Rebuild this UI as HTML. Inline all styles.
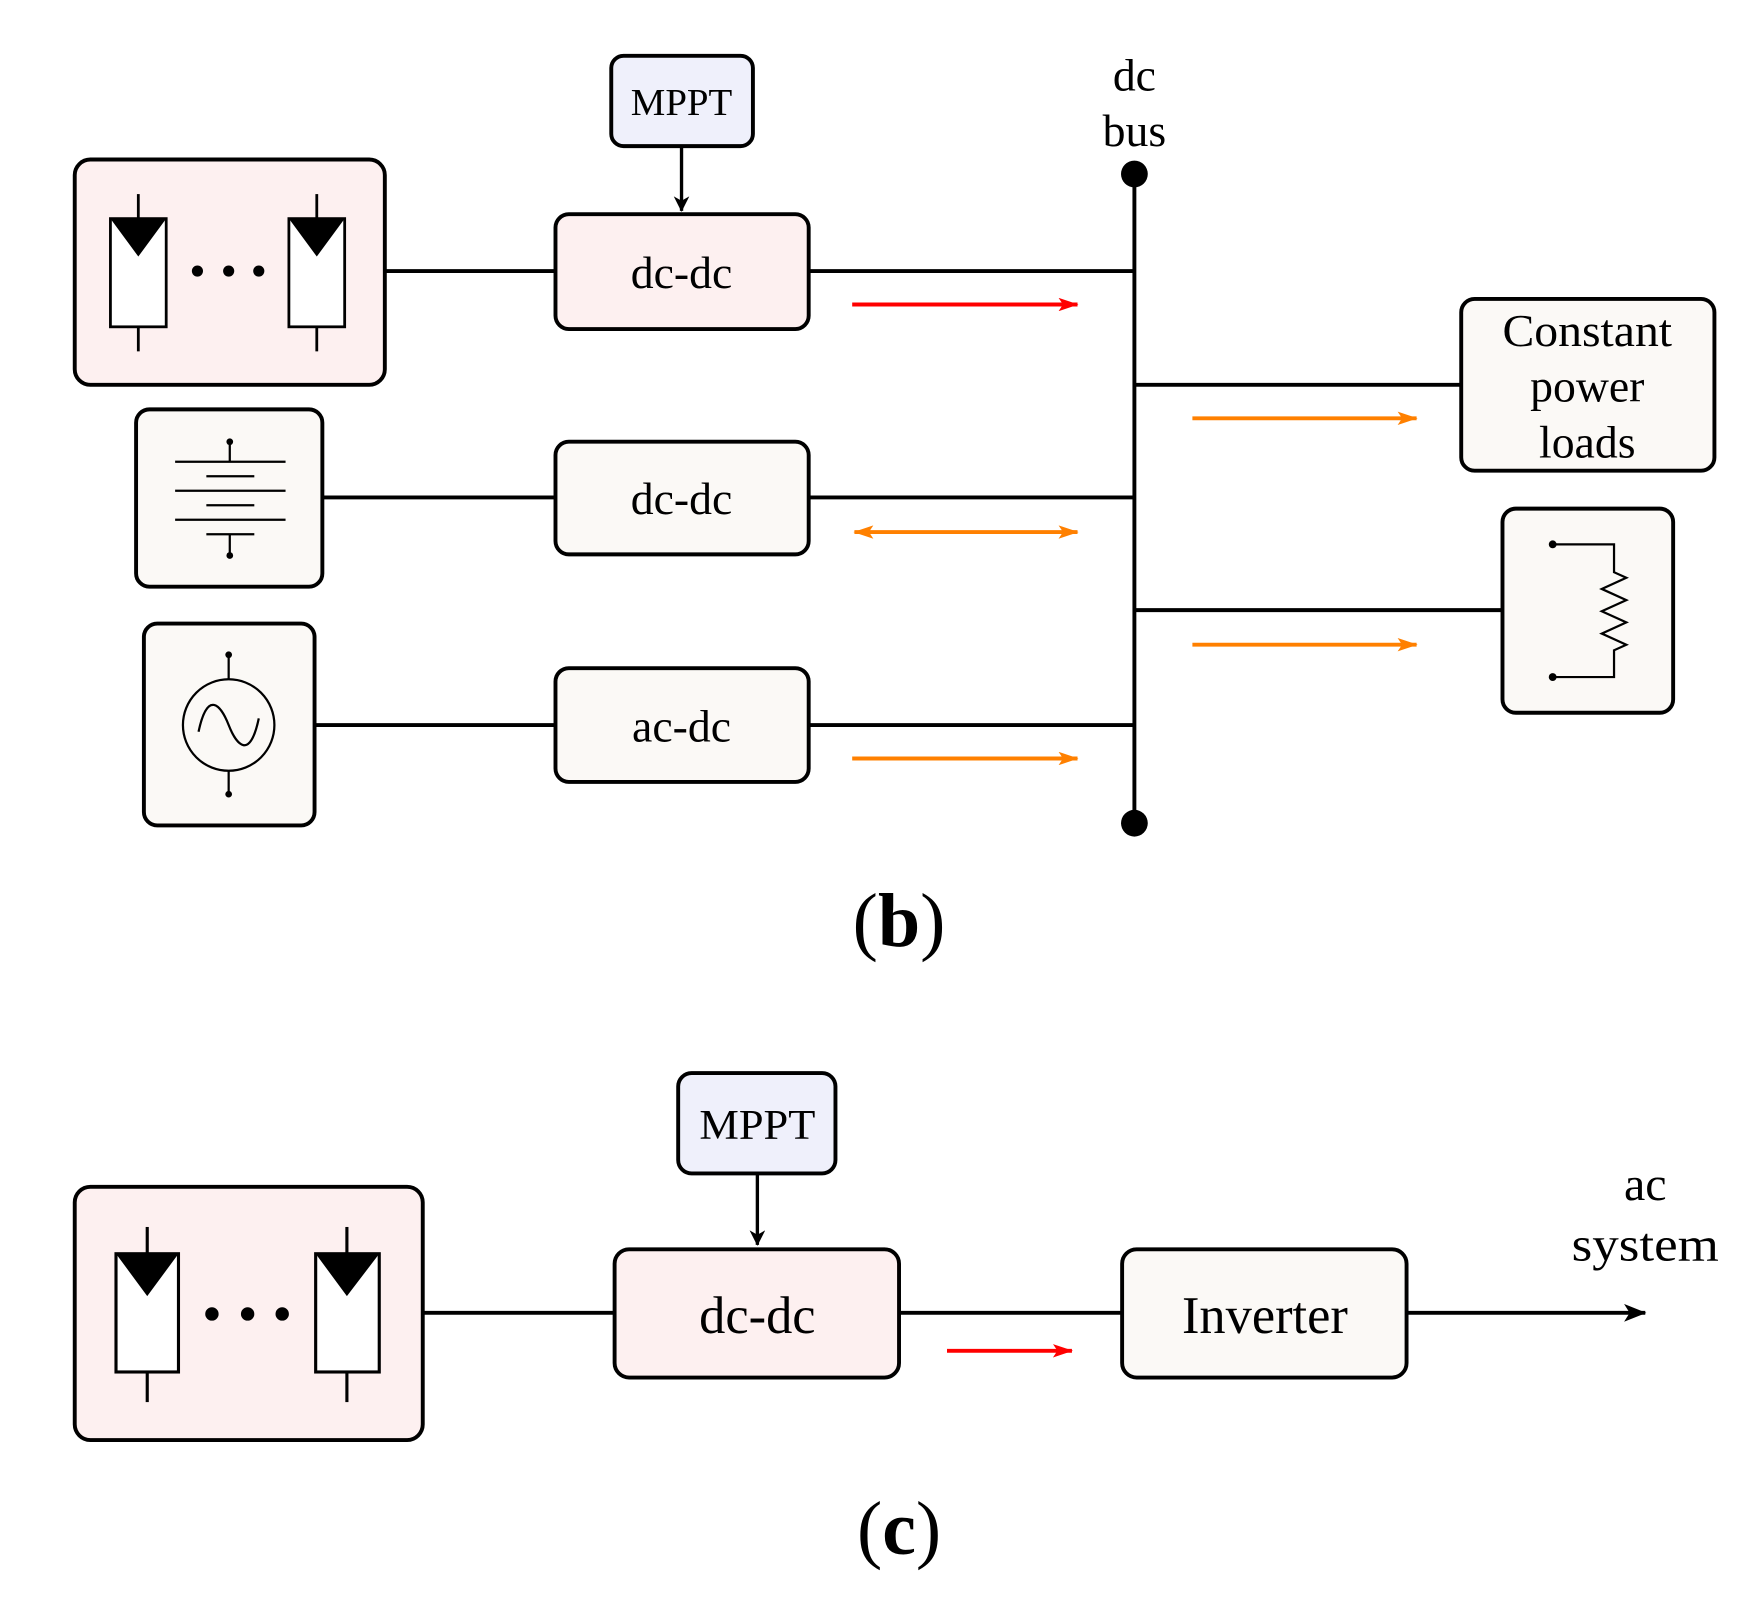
<!DOCTYPE html>
<html><head><meta charset="utf-8"><style>html,body{margin:0;padding:0;background:#fff}svg{display:block}</style></head>
<body>
<svg width="1749" height="1608" viewBox="0 0 1568 1441.6" preserveAspectRatio="none" xmlns="http://www.w3.org/2000/svg" font-family="'Liberation Serif', serif">
<defs>
<marker id="ak" markerWidth="14" markerHeight="14" refX="13" refY="7" orient="auto" markerUnits="userSpaceOnUse"><path d="M0,0 L14,7 L0,14 L4,7 Z" fill="#000"/></marker>
<marker id="ar" markerWidth="18" markerHeight="12" refX="17" refY="6" orient="auto-start-reverse" markerUnits="userSpaceOnUse"><path d="M0,0 L18,6 L0,12 L4,6 Z" fill="#f00"/></marker>
<marker id="ao" markerWidth="18" markerHeight="12" refX="17" refY="6" orient="auto-start-reverse" markerUnits="userSpaceOnUse"><path d="M0,0 L18,6 L0,12 L4,6 Z" fill="#ff8000"/></marker>
<marker id="ab" markerWidth="20" markerHeight="16" refX="19" refY="8" orient="auto" markerUnits="userSpaceOnUse"><path d="M0,0 L20,8 L0,16 L5,8 Z" fill="#000"/></marker>
</defs>
<g stroke="#000" stroke-width="3.5" fill="none">
<line x1="345" y1="243" x2="498" y2="243"/><line x1="725" y1="243" x2="1017" y2="243"/>
<line x1="289" y1="446" x2="498" y2="446"/><line x1="725" y1="446" x2="1017" y2="446"/>
<line x1="282" y1="650" x2="498" y2="650"/><line x1="725" y1="650" x2="1017" y2="650"/>
<line x1="1017" y1="156" x2="1017" y2="738"/>
<line x1="1017" y1="345" x2="1310" y2="345"/>
<line x1="1017" y1="547" x2="1347" y2="547"/>
<line x1="611" y1="131" x2="611" y2="189" stroke-width="3" marker-end="url(#ak)"/>
<rect x="548" y="50" width="127" height="81" rx="11" fill="#eff0fb"/>
<rect x="498" y="192" width="227" height="103" rx="12" fill="#fdf0f0"/>
<rect x="67" y="143" width="278" height="202" rx="14" fill="#fdf0f0"/>
<rect x="122" y="367" width="167" height="159" rx="12" fill="#fbf9f6"/>
<rect x="498" y="396" width="227" height="101" rx="12" fill="#fbf9f6"/>
<rect x="129" y="559" width="153" height="181" rx="12" fill="#fbf9f6"/>
<rect x="498" y="599" width="227" height="102" rx="12" fill="#fbf9f6"/>
<rect x="1310" y="268" width="227" height="154" rx="12" fill="#fbf9f6"/>
<rect x="1347" y="456" width="153" height="183" rx="12" fill="#fbf9f6"/>
</g>
<circle cx="1017" cy="156" r="12"/><circle cx="1017" cy="738" r="12"/>
<g stroke="#000" stroke-width="2.5" fill="#fff">
<line x1="124" y1="174" x2="124" y2="196"/><line x1="124" y1="293" x2="124" y2="315"/>
<rect x="99" y="196" width="50" height="97"/>
<line x1="284" y1="174" x2="284" y2="196"/><line x1="284" y1="293" x2="284" y2="315"/>
<rect x="259" y="196" width="50" height="97"/>
</g>
<path d="M99,196 L149,196 L124,230 Z M259,196 L309,196 L284,230 Z" fill="#000"/>
<circle cx="177" cy="243" r="5"/><circle cx="205" cy="243" r="5"/><circle cx="232" cy="243" r="5"/>
<g stroke="#000" stroke-width="2" fill="none">
<line x1="206" y1="396" x2="206" y2="414"/>
<line x1="157" y1="414" x2="256" y2="414"/><line x1="185" y1="427" x2="228" y2="427"/>
<line x1="157" y1="440" x2="256" y2="440"/><line x1="185" y1="453" x2="228" y2="453"/>
<line x1="157" y1="466" x2="256" y2="466"/><line x1="185" y1="479" x2="228" y2="479"/>
<line x1="206" y1="479" x2="206" y2="498"/>
<line x1="205" y1="587" x2="205" y2="609"/><line x1="205" y1="691" x2="205" y2="712"/>
<circle cx="205" cy="650" r="41"/>
<path d="M178,656 C186,618 198,632 205,650 C212,668 224,682 232,644"/>
<path d="M1392,488 L1447,488 L1447,513 L1458,518 L1436,528 L1458,538 L1436,548 L1458,558 L1436,568 L1458,578 L1447,583 L1447,607 L1392,607"/>
</g>
<circle cx="206" cy="396" r="3"/><circle cx="206" cy="498" r="3"/>
<circle cx="205" cy="587" r="3"/><circle cx="205" cy="712" r="3"/>
<circle cx="1392" cy="488" r="3.5"/><circle cx="1392" cy="607" r="3.5"/>
<g stroke-width="3.5">
<line x1="764" y1="273" x2="966" y2="273" stroke="#f00" marker-end="url(#ar)"/>
<line x1="766" y1="477" x2="966" y2="477" stroke="#ff8000" marker-start="url(#ao)" marker-end="url(#ao)"/>
<line x1="764" y1="680" x2="966" y2="680" stroke="#ff8000" marker-end="url(#ao)"/>
<line x1="1069" y1="375" x2="1270" y2="375" stroke="#ff8000" marker-end="url(#ao)"/>
<line x1="1069" y1="578" x2="1270" y2="578" stroke="#ff8000" marker-end="url(#ao)"/>
</g>
<text x="611" y="103" font-size="34" text-anchor="middle" textLength="91" lengthAdjust="spacingAndGlyphs">MPPT</text>
<g font-size="41" text-anchor="middle">
<text x="611" y="258">dc-dc</text>
<text x="611" y="461">dc-dc</text>
<text x="611" y="665">ac-dc</text>
<text x="1017" y="81">dc</text>
<text x="1017" y="131">bus</text>
<text x="1423" y="310" textLength="152" lengthAdjust="spacingAndGlyphs">Constant</text>
<text x="1423" y="360">power</text>
<text x="1423" y="410">loads</text>
</g>
<text x="806" y="848" font-size="68" text-anchor="middle">(<tspan font-weight="bold">b</tspan>)</text>

<g stroke="#000" stroke-width="3.5" fill="none">
<line x1="379" y1="1177" x2="551" y2="1177"/><line x1="806" y1="1177" x2="1006" y2="1177"/>
<line x1="1261" y1="1177" x2="1475" y2="1177" marker-end="url(#ab)"/>
<line x1="679" y1="1052" x2="679" y2="1116" stroke-width="3" marker-end="url(#ak)"/>
<rect x="608" y="962" width="141" height="90" rx="12" fill="#eff0fb"/>
<rect x="67" y="1064" width="312" height="227" rx="14" fill="#fdf0f0"/>
<rect x="551" y="1120" width="255" height="115" rx="13" fill="#fdf0f0"/>
<rect x="1006" y="1120" width="255" height="115" rx="13" fill="#fbf9f6"/>
</g>
<g stroke="#000" stroke-width="2.8" fill="#fff">
<line x1="132" y1="1100" x2="132" y2="1124"/><line x1="132" y1="1230" x2="132" y2="1257"/>
<rect x="104" y="1124" width="56" height="106"/>
<line x1="311" y1="1100" x2="311" y2="1124"/><line x1="311" y1="1230" x2="311" y2="1257"/>
<rect x="283" y="1124" width="57" height="106"/>
</g>
<path d="M104,1124 L160,1124 L132,1162 Z M283,1124 L340,1124 L311,1162 Z" fill="#000"/>
<circle cx="190" cy="1178" r="6"/><circle cx="222" cy="1178" r="6"/><circle cx="253" cy="1178" r="6"/>
<line x1="849" y1="1211" x2="961" y2="1211" stroke="#f00" stroke-width="3.5" marker-end="url(#ar)"/>
<g text-anchor="middle">
<text x="679" y="1021" font-size="38" textLength="104" lengthAdjust="spacingAndGlyphs">MPPT</text>
<text x="679" y="1195" font-size="47">dc-dc</text>
<text x="1134" y="1195" font-size="47">Inverter</text>
<text x="1475" y="1076" font-size="43">ac</text>
<text x="1475" y="1130" font-size="43" textLength="132" lengthAdjust="spacingAndGlyphs">system</text>
<text x="806" y="1393" font-size="68">(<tspan font-weight="bold">c</tspan>)</text>
</g>
</svg>
</body></html>
